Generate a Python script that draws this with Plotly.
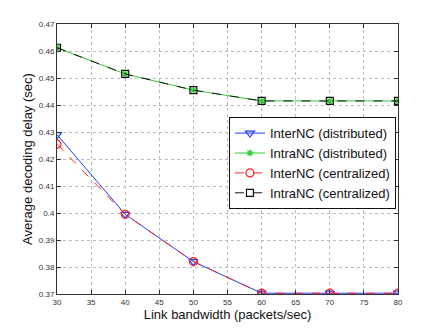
import plotly.graph_objects as go

# link bandwidth (packets/sec)
bandwidth = [30, 40, 50, 60, 70, 80]

# average decoding delay (sec)
inter_distributed = [0.4290, 0.3995, 0.3820, 0.3703, 0.3703, 0.3703]
intra_distributed = [0.4612, 0.4515, 0.4455, 0.4415, 0.4415, 0.4415]
inter_centralized = [0.4255, 0.3995, 0.3820, 0.3703, 0.3703, 0.3703]
intra_centralized = [0.4612, 0.4515, 0.4455, 0.4415, 0.4415, 0.4415]

x_ticks = [30, 35, 40, 45, 50, 55, 60, 65, 70, 75, 80]
y_ticks = [0.37, 0.38, 0.39, 0.40, 0.41, 0.42, 0.43, 0.44, 0.45, 0.46, 0.47]
y_tick_text = ["0.37", "0.38", "0.39", "0.4", "0.41", "0.42", "0.43", "0.44", "0.45", "0.46", "0.47"]

fig = go.Figure()

series = [
    ("InterNC (distributed)", inter_distributed, "#1f3fff", "solid", "triangle-down-open", 8),
    ("IntraNC (distributed)", intra_distributed, "#33cc33", "solid", "asterisk-open", 6),
    ("InterNC (centralized)", inter_centralized, "#ff2020", "dash", "circle-open", 8),
    ("IntraNC (centralized)", intra_centralized, "#111111", "dash", "square-open", 7),
]

for name, vals, color, dash, symbol, size in series:
    fig.add_trace(go.Scatter(
        x=bandwidth, y=vals, name=name, mode="lines+markers",
        line=dict(color=color, width=1, dash=dash),
        marker=dict(symbol=symbol, size=size, color=color, line=dict(color=color, width=1.2)),
    ))

axis_common = dict(
    showline=True, linecolor="#333", linewidth=1, mirror="ticks",
    ticks="inside", ticklen=4, tickcolor="#333",
    showgrid=True, gridcolor="#bbb", griddash="dot", gridwidth=1,
    zeroline=False, tickfont=dict(size=8, color="#333"),
)

fig.update_xaxes(
    range=[30, 80], tickvals=x_ticks,
    title=dict(text="Link bandwidth (packets/sec)", font=dict(size=13, color="#111"), standoff=2),
    **axis_common,
)
fig.update_yaxes(
    range=[0.37, 0.47], tickvals=y_ticks, ticktext=y_tick_text,
    title=dict(text="Average decoding delay (sec)", font=dict(size=13, color="#111"), standoff=3),
    **axis_common,
)

# page body has an 8px margin, so the margins are shifted to compensate
fig.update_layout(
    width=440, height=331,
    margin=dict(l=49, r=50, t=16, b=45),
    paper_bgcolor="white", plot_bgcolor="white",
    font=dict(family="Liberation Sans, Arial, sans-serif"),
    legend=dict(
        x=0.994, y=0.655, xanchor="right", yanchor="top",
        bgcolor="white", bordercolor="#111", borderwidth=1,
        font=dict(size=13, color="#111"), tracegroupgap=0,
        itemwidth=30,
    ),
    showlegend=True,
)

fig.write_html("out.html")
